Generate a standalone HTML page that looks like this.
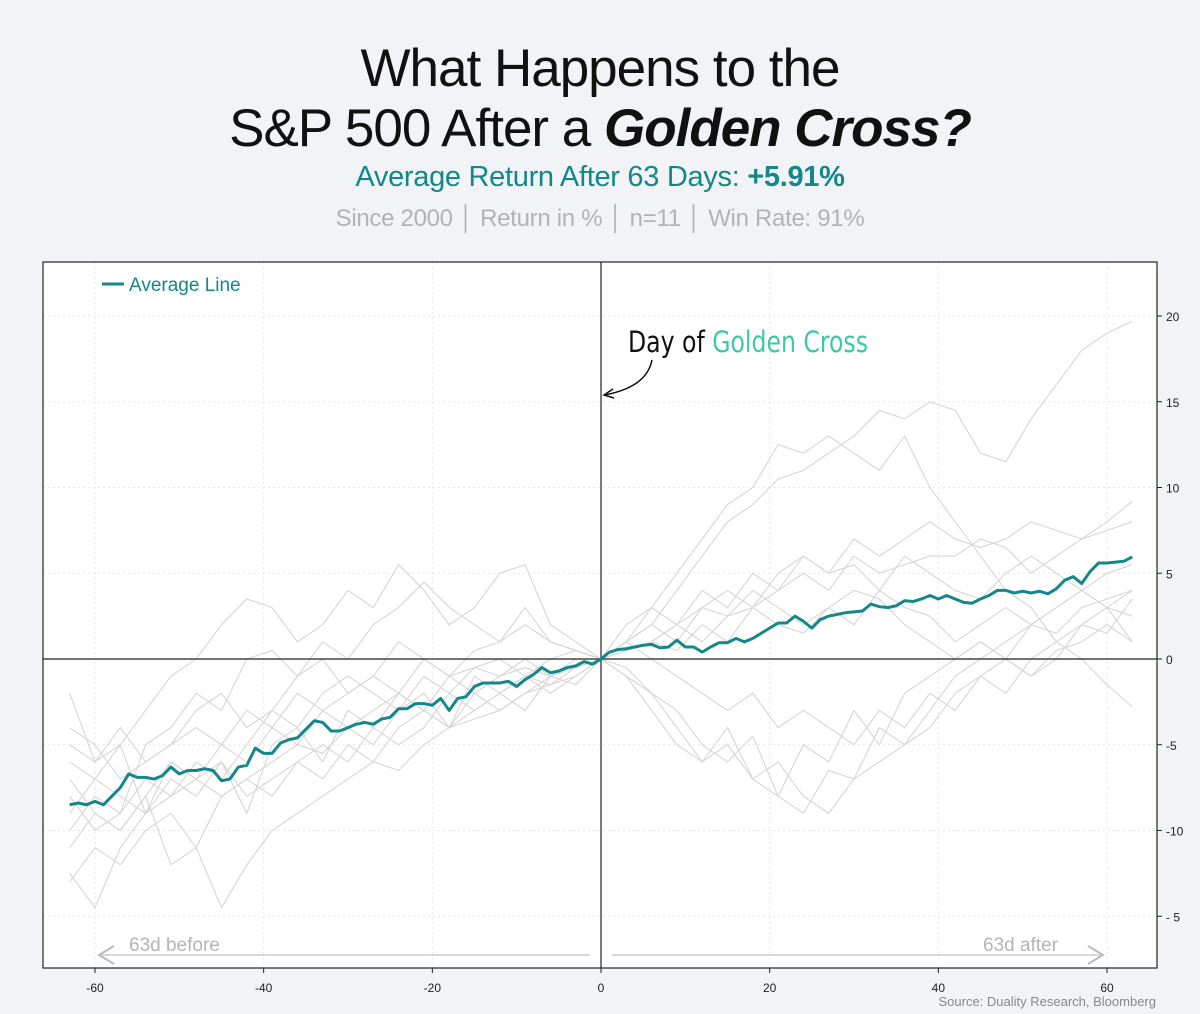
<!DOCTYPE html>
<html><head><meta charset="utf-8">
<style>
body{margin:0;background:#f2f3f6;font-family:"Liberation Sans",sans-serif;}
#wrap{position:relative;width:1200px;height:1014px;overflow:hidden;}
.t{position:absolute;left:0;width:1200px;text-align:center;}
</style></head><body>
<div id="wrap">
<div class="t" style="top:38px;font-size:53px;color:#111;letter-spacing:-1px;">What Happens to the</div>
<div class="t" style="top:98px;font-size:53px;color:#111;letter-spacing:-1px;">S&amp;P 500 After a <b><i>Golden Cross?</i></b></div>
<div class="t" style="top:161px;font-size:29px;color:#13878a;letter-spacing:-0.3px;">Average Return After 63 Days: <b>+5.91%</b></div>
<div class="t" style="top:205px;font-size:24px;color:#b3b3b3;letter-spacing:-0.3px;">Since 2000 │ Return in % │ n=11 │ Win Rate: 91%</div>
<svg id="chart" width="1200" height="1014" style="position:absolute;left:0;top:0"></svg>
</div>
<script>
const days=[];for(let d=-63;d<=63;d++)days.push(d);
const avgValues=[-8.5,-8.4,-8.5,-8.3,-8.5,-8.0,-7.5,-6.7,-6.9,-6.9,-7.0,-6.8,-6.3,-6.7,-6.5,-6.5,-6.4,-6.5,-7.1,-7.0,-6.3,-6.2,-5.2,-5.5,-5.5,-4.9,-4.7,-4.6,-4.1,-3.6,-3.7,-4.2,-4.2,-4.0,-3.8,-3.7,-3.8,-3.5,-3.4,-2.9,-2.9,-2.6,-2.6,-2.7,-2.3,-3.0,-2.3,-2.2,-1.6,-1.4,-1.4,-1.4,-1.3,-1.6,-1.2,-0.9,-0.5,-0.8,-0.7,-0.5,-0.4,-0.15,-0.3,0,
0.4,0.55,0.6,0.7,0.8,0.85,0.65,0.7,1.1,0.7,0.7,0.4,0.7,0.95,0.95,1.2,1.0,1.2,1.5,1.8,2.1,2.1,2.5,2.2,1.8,2.3,2.5,2.6,2.7,2.75,2.8,3.2,3.05,3.0,3.1,3.4,3.35,3.5,3.7,3.5,3.7,3.5,3.3,3.25,3.5,3.7,4.0,4.0,3.85,3.95,3.85,3.95,3.8,4.1,4.6,4.8,4.4,5.1,5.6,5.6,5.65,5.7,5.95];
const sampleDays=[];for(let d=-63;d<=63;d+=3)sampleDays.push(d);
const ev1=[-2,-6,-5,-3,-1,0,2,3.5,3,1,2,4,3,5.5,4,2,3,5,5.5,2,1,0,1,2,4,6,8,9,10.5,11,12,13,14.5,14,15,14.5,12,11.5,14,16,18,19,19.7];
const ev2=[-10,-8,-9,-5,-4,-2,-3,0,0.5,-1,1,0,2,3,4.5,3,2,1,3,1,0.5,0,2,3,5,7,9,10,12.5,12,13,12,11,13,10,8,6,4,3,1,0,-1.5,-2.8];
const ev3=[-12.5,-14.5,-11,-9,-7,-8,-6,-9,-5,-4,-6,-3,-4,-2,-3,-4,-1,-2,-3,-1,-0.5,0,-1,-2,-4,-6,-5,-7,-8,-5,-6,-3,-5,-2,-1,0,1,0,2,3,4,3,1];
const ev4=[-7,-9,-10,-8,-12,-11,-14.5,-12,-10,-9,-8,-7,-6,-6.5,-5,-4,-3.5,-3,-2,-1.5,-1,0,-0.5,-2,-3,-5,-6,-4.5,-8,-9,-6.5,-7,-4,-5,-3,-1,0,1,2,1.5,3,3.5,4];
const ev5=[-6,-7,-5,-9,-8,-6,-7,-5,-3,-4,-2,-1,-2,-3,-1,-2,-0.5,-1,0,-1,-0.5,0,1,2,1,3,4,3,5,6,5,7,6,7,8,7,6.5,7,8,7.5,7,8,9.2];
const ev6=[-9,-7,-8,-9,-6,-7,-8,-7,-6,-5,-5.5,-4,-5,-3,-2,-4,-3,-2,-1,-1.5,-0.5,0,0.5,1,2,1,2.5,3,4,5,4,6,5,5.5,6,6,7,6.5,5,6,7,7.5,8];
const ev7=[-11,-9,-10,-8,-6,-7,-5,-6,-4,-5,-3,-4,-3,-2,-3,-1,-2,-1,-0.5,-1,0,0,-1,-3,-5,-6,-4,-7,-6,-8,-9,-7,-6,-5,-4,-2,-1,-2,0,1,2,1.5,3.5];
const ev8=[-4,-5,-7,-6,-5,-3,-2,-4,-3,-1,0,-2,-1,1,0,-1,0.5,1,2,1,0.5,0,1,3,2,4,3,5,4,6,5,5.5,4,6,5,4,3.5,5,6,5,4,5,5.5];
const ev9=[-8,-10,-9,-7,-8,-7,-6,-8,-7,-6,-5,-6,-4,-5,-4,-2,-3,-2,-1,-2,-1,0,0.5,1,0.5,2,1,3,2,1.5,3,2,4,3,2.5,1,2,3,2,3,4,3,2.5];
const ev10=[-13,-11,-12,-10,-9,-11,-8,-7,-8,-6,-7,-5,-6,-4,-3,-4,-2,-3,-2,-1,-1.5,0,0.5,1,2,3,2.5,4,3,2,3,4,3.5,2,1,0,1,0,-1,0.5,1,2,1];
const ev11=[-5,-6,-4,-6,-5,-4,-5,-3,-4,-2,-3,-2,-1,-2,0,-1,-0.5,0,-1,0,0.5,0,1,0,-1,-2,-3,-2,-4,-3,-4,-5,-3,-4,-2,-3,-1,0,-1,0,2,3,4];
const events=[ev1,ev2,ev3,ev4,ev5,ev6,ev7,ev8,ev9,ev10,ev11];
const xTicks=[-60,-40,-20,0,20,40,60];
const yTicks=[20,15,10,5,0,-5,-10,-15];
const yTickLabels=["20","15","10","5","0","-5","-10","- 5"];

const L=43,R=1157,T=262,B=968;
const X=d=>601+(d)*(1107-95)/120;
const Y=v=>659-v*17.15;
const NS="http://www.w3.org/2000/svg";
const svg=document.getElementById('chart');
function mk(tag,attrs,parent){const e=document.createElementNS(NS,tag);for(const k in attrs)e.setAttribute(k,attrs[k]);(parent||svg).appendChild(e);return e;}

const bg=mk('rect',{x:L,y:T,width:R-L,height:B-T,fill:'#fff'});


xTicks.forEach(t=>{if(t!==0){const g=mk('line',{x1:X(t),x2:X(t),y1:T,y2:B,stroke:'#e6e6e6','stroke-dasharray':'2,3'});

}});
yTicks.forEach(t=>{if(t!==0){const g=mk('line',{x1:L,x2:R,y1:Y(t),y2:Y(t),stroke:'#e6e6e6','stroke-dasharray':'2,3'});

}});
events.forEach((ev,i)=>{const p=mk('polyline',{points:ev.map((v,j)=>X(sampleDays[j])+','+Y(v)).join(' '),fill:'none',stroke:'#d6d6d6','stroke-width':1.1});

});
const zx=mk('line',{x1:X(0),x2:X(0),y1:T,y2:B,stroke:'#222','stroke-width':1.2});


const zy=mk('line',{x1:L,x2:R,y1:Y(0),y2:Y(0),stroke:'#222','stroke-width':1.2});


const avg=mk('polyline',{points:avgValues.map((v,j)=>X(days[j])+','+Y(v)).join(' '),fill:'none',stroke:'#13878a','stroke-width':3,'stroke-linejoin':'round'});


const fr=mk('rect',{x:L,y:T,width:R-L,height:B-T,fill:'none',stroke:'#222','stroke-width':1.2});


xTicks.forEach(t=>{mk('line',{x1:X(t),x2:X(t),y1:B,y2:B+5,stroke:'#222'});
const tx=mk('text',{x:X(t),y:B+24,'text-anchor':'middle','font-size':12,fill:'#222'});tx.textContent=t;

});
yTicks.forEach((t,i)=>{mk('line',{x1:R,x2:R+5,y1:Y(t),y2:Y(t),stroke:'#222'});
const tx=mk('text',{x:R+9,y:Y(t)+5,'font-size':12,fill:'#222'});tx.textContent=yTickLabels[i];

});
mk('line',{x1:102,x2:124,y1:284,y2:284,stroke:'#13878a','stroke-width':3});
const lg=mk('text',{x:129,y:291,'font-size':19,fill:'#13878a'});lg.textContent='Average Line';


const an=mk('text',{x:628,y:352,'font-size':29,fill:'#111','font-family':'"DejaVu Sans Condensed","Liberation Sans Narrow",sans-serif','textLength':240,'lengthAdjust':'spacingAndGlyphs'});
an.innerHTML='Day of <tspan fill="#3fc8a8">Golden Cross</tspan>';


mk('path',{d:'M652,360 C648,380 630,390 605,395',fill:'none',stroke:'#111','stroke-width':1.5});
mk('path',{d:'M613,389 L604,395 L614,398',fill:'none',stroke:'#111','stroke-width':1.5});
mk('line',{x1:99,x2:590,y1:955,y2:955,stroke:'#d8d8d8','stroke-width':2});
mk('path',{d:'M114,946 L99,955 L114,964',fill:'none',stroke:'#bbb','stroke-width':2});
const lb=mk('text',{x:129,y:951,'font-size':19,fill:'#b5b5b5'});lb.textContent='63d before';


mk('line',{x1:612,x2:1103,y1:955,y2:955,stroke:'#d8d8d8','stroke-width':2});
mk('path',{d:'M1088,946 L1103,955 L1088,964',fill:'none',stroke:'#bbb','stroke-width':2});
const la=mk('text',{x:983,y:951,'font-size':19,fill:'#b5b5b5'});la.textContent='63d after';


const src=mk('text',{x:1156,y:1006,'text-anchor':'end','font-size':13,fill:'#888'});src.textContent='Source: Duality Research, Bloomberg';


</script>
</body></html>
